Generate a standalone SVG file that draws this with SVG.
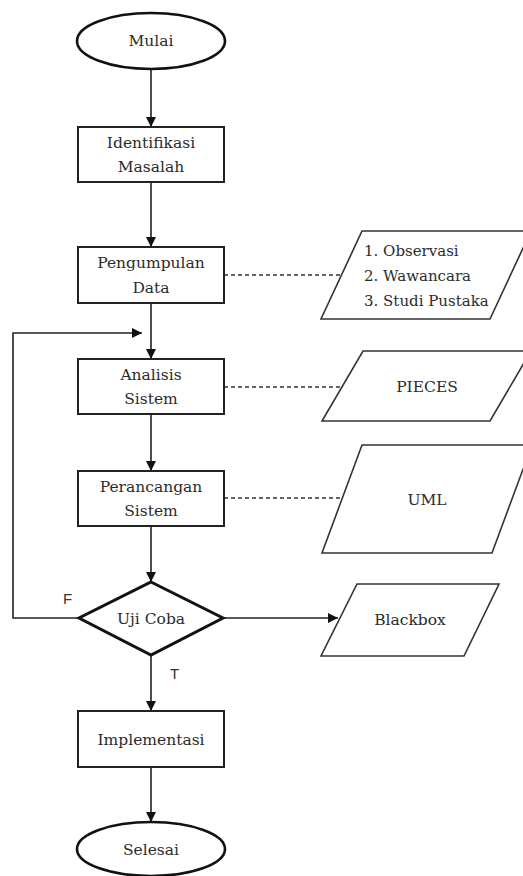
<svg xmlns="http://www.w3.org/2000/svg" width="523" height="876" viewBox="0 0 523 876">
<style>
.shape{fill:#fff;stroke:#222;stroke-width:2}
.term{fill:#fff;stroke:#111;stroke-width:2.6}
.dec{fill:#fff;stroke:#111;stroke-width:3}
.io{fill:#fff;stroke:#333;stroke-width:1.6}
.t{font-family:"DejaVu Serif","Liberation Serif",serif;font-size:15.5px;fill:#2b2b2b;text-anchor:middle;dominant-baseline:central}
.tl{font-family:"DejaVu Serif","Liberation Serif",serif;font-size:15px;fill:#2b2b2b}
.lab{font-family:"Liberation Sans","DejaVu Sans",sans-serif;font-size:15px;fill:#333}
.c{fill:none;stroke:#222;stroke-width:1.6}
.d{fill:none;stroke:#333;stroke-width:1.5;stroke-dasharray:4 3}
</style>
<defs>
<marker id="ah" viewBox="0 0 10 10" refX="10" refY="5" markerWidth="10" markerHeight="10" markerUnits="userSpaceOnUse" orient="auto">
<path d="M0,0 L10,5 L0,10 Z" fill="#111"/>
</marker>
</defs>
<g id="connectors">
<line class="c" x1="151" y1="69" x2="151" y2="127" marker-end="url(#ah)"/>
<line class="c" x1="151" y1="182" x2="151" y2="247" marker-end="url(#ah)"/>
<line class="c" x1="151" y1="303" x2="151" y2="359" marker-end="url(#ah)"/>
<line class="c" x1="151" y1="414" x2="151" y2="471" marker-end="url(#ah)"/>
<line class="c" x1="151" y1="526" x2="151" y2="582" marker-end="url(#ah)"/>
<polyline class="c" points="79,618 13,618 13,333 142,333" marker-end="url(#ah)"/>
<line class="c" x1="223" y1="618" x2="338" y2="618" marker-end="url(#ah)"/>
<line class="c" x1="151" y1="655" x2="151" y2="711" marker-end="url(#ah)"/>
<line class="c" x1="151" y1="767" x2="151" y2="822" marker-end="url(#ah)"/>
<line class="d" x1="224" y1="275" x2="341" y2="275"/>
<line class="d" x1="224" y1="387" x2="342" y2="387"/>
<line class="d" x1="224" y1="498" x2="342" y2="498"/>
<text class="lab" x="63" y="604">F</text>
<text class="lab" x="170" y="679">T</text>
</g>
<g id="mulai">
<ellipse class="term" cx="151" cy="41" rx="74" ry="28"/>
<text class="t" x="151" y="41">Mulai</text>
</g>
<g id="identifikasi">
<rect class="shape" x="78" y="127" width="146" height="55"/>
<text class="t" x="151" y="143">Identifikasi</text>
<text class="t" x="151" y="167">Masalah</text>
</g>
<g id="pengumpulan">
<rect class="shape" x="78" y="247" width="146" height="56"/>
<text class="t" x="151" y="263">Pengumpulan</text>
<text class="t" x="151" y="288">Data</text>
</g>
<g id="data-methods">
<polygon class="io" points="362,231 531,231 490,319 321,319"/>
<text class="tl" x="364" y="256">1. Observasi</text>
<text class="tl" x="364" y="281">2. Wawancara</text>
<text class="tl" x="364" y="306">3. Studi Pustaka</text>
</g>
<g id="analisis">
<rect class="shape" x="78" y="359" width="146" height="55"/>
<text class="t" x="151" y="375">Analisis</text>
<text class="t" x="151" y="399">Sistem</text>
</g>
<g id="pieces">
<polygon class="io" points="363,351 531,351 490,421 322,421"/>
<text class="t" x="427" y="387">PIECES</text>
</g>
<g id="perancangan">
<rect class="shape" x="78" y="471" width="146" height="55"/>
<text class="t" x="151" y="487">Perancangan</text>
<text class="t" x="151" y="511">Sistem</text>
</g>
<g id="uml">
<polygon class="io" points="362,445 532,445 492,553 322,553"/>
<text class="t" x="427" y="500">UML</text>
</g>
<g id="ujicoba">
<polygon class="dec" points="151,582 223,618 151,655 79,618"/>
<text class="t" x="151" y="619">Uji Coba</text>
</g>
<g id="blackbox">
<polygon class="io" points="357,584 499,584 464,656 321,656"/>
<text class="t" x="410" y="620">Blackbox</text>
</g>
<g id="implementasi">
<rect class="shape" x="78" y="711" width="146" height="56"/>
<text class="t" x="151" y="740">Implementasi</text>
</g>
<g id="selesai">
<ellipse class="term" cx="151" cy="849" rx="74" ry="27"/>
<text class="t" x="151" y="850">Selesai</text>
</g>
</svg>
